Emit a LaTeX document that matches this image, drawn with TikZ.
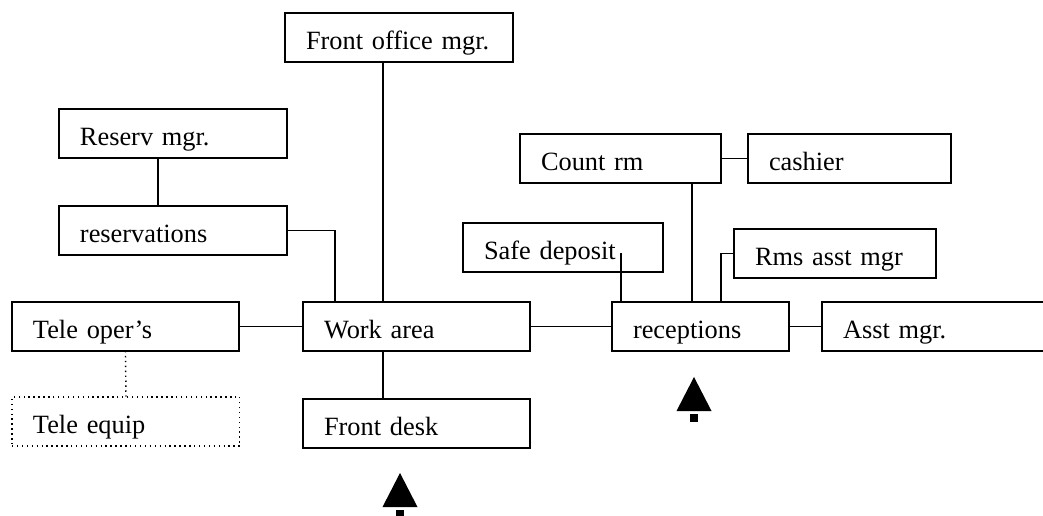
\documentclass[tikz,border=0pt]{standalone}
\usepackage{fontspec}
\setmainfont{Liberation Serif}
\usepackage{tikz}
\def\deskmark(#1,#2)% Syntax: (apex x,apex y) of the marker
    { \fill (#1,#2) -- ++(-17.5,34) -- ++(35,0) -- cycle;
      \fill (#1-4,#2+37) rectangle ++(8,8); }

\begin{document}
\begin{tikzpicture}[x=0.02cm,y=-0.02cm,
    box/.style={draw, rectangle, line width=0.8pt, anchor=north west, outer sep=0pt,
      inner xsep=0.42cm, inner ysep=0pt, minimum height=0.98cm, align=left,
      text height=16pt, text depth=2.4pt,
      font=\fontsize{15}{18}\selectfont},
    link/.style={line width=0.8pt}]
   \useasboundingbox (0,0) rectangle (1043,516);
   \clip (0,0) rectangle (1043,516);

   % left side
   \node[box, text width=3.72cm] (fom) at (285,13) {Front office mgr.};
   \node[box, text width=3.72cm] (resmgr) at (59,109) {Reserv mgr.};
   \node[box, text width=3.72cm] (reserv) at (59,206) {reservations};
   \node[box, text width=3.70cm] (teleop) at (12,302) {Tele oper's};
   \node[box, text width=3.72cm, dotted, line width=0.6pt] (equip) at (12,397) {Tele equip};
   \node[box, text width=3.70cm] (work) at (303,302) {Work area};
   \node[box, text width=3.70cm] (desk) at (303,399) {Front desk};

   % right side
   \node[box, text width=3.18cm] (count) at (520,134) {Count rm};
   \node[box, text width=3.22cm] (cashier) at (748,134) {cashier};
   \node[box, text width=3.16cm] (safe) at (463,223) {Safe deposit};
   \node[box, text width=3.20cm] (rms) at (734,229) {Rms asst mgr};
   \node[box, text width=2.70cm] (recep) at (612,302) {receptions};
   \node[box, text width=4.30cm] (asst) at (822,302) {Asst mgr.};

   \coordinate (trunk) at (383,0);
   \coordinate (rjoin) at (335,0);
   \coordinate (rstem) at (158,0);
   \coordinate (cdrop) at (692,0);
   \coordinate (sdrop) at (621,253);
   \coordinate (mdrop) at (721,0);

   \draw[link] (fom.south -| trunk) -- (work.north -| trunk);
   \draw[link] (work.south -| trunk) -- (desk.north -| trunk);
   \draw[link] (resmgr.south -| rstem) -- (reserv.north -| rstem);
   \draw[link] (reserv.east) -| (work.north -| rjoin);
   \draw[link] (teleop.east) -- (work.west);
   \draw[link, dotted] (teleop.south) -- (equip.north);
   \draw[link] (work.east) -- (recep.west);
   \draw[link] (recep.east) -- (asst.west);
   \draw[link] (count.east) -- (cashier.west);
   \draw[link] (count.south -| cdrop) -- (recep.north -| cdrop);
   \draw[link] (sdrop) -- (recep.north -| sdrop);
   \draw[link] (rms.west) -| (recep.north -| mdrop);

   \deskmark(400,473)
   \deskmark(694,377)
 \end{tikzpicture}
\end{document}
